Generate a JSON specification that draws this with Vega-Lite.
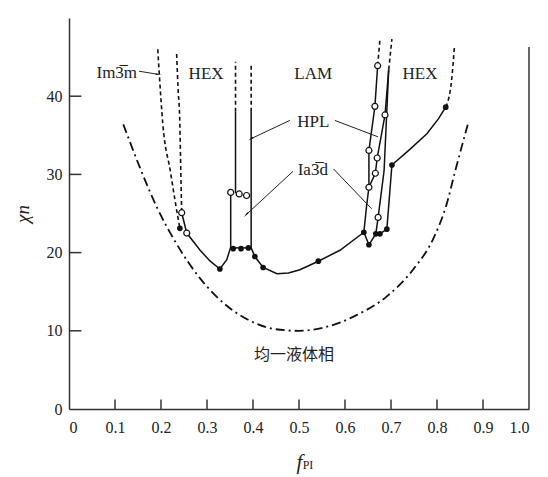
{
  "$schema": "https://vega.github.io/schema/vega-lite/v6.json",
  "width": 460,
  "height": 391,
  "autosize": {"type": "none"},
  "padding": {"left": 69, "top": 18, "right": 19, "bottom": 68},
  "background": "white",
  "config": {
    "font": "Liberation Serif",
    "view": {"stroke": null},
    "axis": {
      "grid": false,
      "ticks": false,
      "tickSize": 0,
      "domainColor": "#333",
      "domainWidth": 1.5,
      "labelFont": "Liberation Serif",
      "labelFontSize": 16,
      "labelColor": "#222",
      "titleFont": "Liberation Serif",
      "titleColor": "#222",
      "titleFontWeight": "normal",
      "titleFontStyle": "italic"
    }
  },
  "datasets": {
    "solid": [
      {"s": "lowL", "o": 1, "x": 0.245, "y": 25.1},
      {"s": "lowL", "o": 2, "x": 0.256, "y": 22.5},
      {"s": "lowL", "o": 3, "x": 0.285, "y": 20.3},
      {"s": "lowL", "o": 4, "x": 0.307, "y": 18.9},
      {"s": "lowL", "o": 5, "x": 0.328, "y": 17.9},
      {"s": "lowL", "o": 6, "x": 0.343, "y": 19.1},
      {"s": "lowL", "o": 7, "x": 0.3515, "y": 20.7},
      {"s": "lowL", "o": 8, "x": 0.3515, "y": 27.7},
      {"s": "boxB", "o": 1, "x": 0.3515, "y": 20.6},
      {"s": "boxB", "o": 2, "x": 0.396, "y": 20.6},
      {"s": "hplL", "o": 1, "x": 0.362, "y": 27.6},
      {"s": "hplL", "o": 2, "x": 0.362, "y": 38.0},
      {"s": "lowR", "o": 1, "x": 0.396, "y": 38.0},
      {"s": "lowR", "o": 2, "x": 0.396, "y": 20.6},
      {"s": "lowR", "o": 3, "x": 0.404, "y": 19.5},
      {"s": "lowR", "o": 4, "x": 0.422, "y": 18.1},
      {"s": "lowR", "o": 5, "x": 0.452, "y": 17.3},
      {"s": "lowR", "o": 6, "x": 0.477, "y": 17.4},
      {"s": "lowR", "o": 7, "x": 0.502, "y": 17.8},
      {"s": "lowR", "o": 8, "x": 0.542, "y": 18.9},
      {"s": "lowR", "o": 9, "x": 0.589, "y": 20.3},
      {"s": "lowR", "o": 10, "x": 0.641, "y": 22.6},
      {"s": "r1", "o": 1, "x": 0.641, "y": 22.6},
      {"s": "r1", "o": 2, "x": 0.647, "y": 26.0},
      {"s": "r1", "o": 3, "x": 0.652, "y": 28.35},
      {"s": "r1", "o": 4, "x": 0.652, "y": 33.06},
      {"s": "r1", "o": 5, "x": 0.665, "y": 38.7},
      {"s": "r1", "o": 6, "x": 0.671, "y": 43.9},
      {"s": "rz", "o": 1, "x": 0.652, "y": 28.35},
      {"s": "rz", "o": 2, "x": 0.666, "y": 30.15},
      {"s": "rz", "o": 3, "x": 0.670, "y": 32.1},
      {"s": "rz", "o": 4, "x": 0.687, "y": 37.6},
      {"s": "rz", "o": 5, "x": 0.695, "y": 43.4},
      {"s": "rm", "o": 1, "x": 0.667, "y": 22.4},
      {"s": "rm", "o": 2, "x": 0.672, "y": 24.5},
      {"s": "rm", "o": 3, "x": 0.685, "y": 30.5},
      {"s": "rm", "o": 4, "x": 0.695, "y": 43.4},
      {"s": "rr", "o": 1, "x": 0.691, "y": 23.0},
      {"s": "rr", "o": 2, "x": 0.702, "y": 31.2},
      {"s": "zig", "o": 1, "x": 0.641, "y": 22.6},
      {"s": "zig", "o": 2, "x": 0.652, "y": 21.0},
      {"s": "zig", "o": 3, "x": 0.667, "y": 22.4},
      {"s": "zig", "o": 4, "x": 0.676, "y": 22.4},
      {"s": "zig", "o": 5, "x": 0.691, "y": 23.0},
      {"s": "hex", "o": 1, "x": 0.702, "y": 31.2},
      {"s": "hex", "o": 2, "x": 0.741, "y": 33.2},
      {"s": "hex", "o": 3, "x": 0.778, "y": 35.2},
      {"s": "hex", "o": 4, "x": 0.803, "y": 37.1},
      {"s": "hex", "o": 5, "x": 0.819, "y": 38.6}
    ],
    "dashed": [
      {"s": "A", "o": 1, "x": 0.193, "y": 46.0},
      {"s": "A", "o": 2, "x": 0.196, "y": 43.1},
      {"s": "A", "o": 3, "x": 0.204, "y": 36.4},
      {"s": "A", "o": 4, "x": 0.220, "y": 30.5},
      {"s": "A", "o": 5, "x": 0.233, "y": 25.8},
      {"s": "A", "o": 6, "x": 0.241, "y": 23.1},
      {"s": "B", "o": 1, "x": 0.234, "y": 45.4},
      {"s": "B", "o": 2, "x": 0.237, "y": 41.1},
      {"s": "B", "o": 3, "x": 0.241, "y": 36.4},
      {"s": "B", "o": 4, "x": 0.243, "y": 30.5},
      {"s": "B", "o": 5, "x": 0.245, "y": 25.1},
      {"s": "HL", "o": 1, "x": 0.362, "y": 38.0},
      {"s": "HL", "o": 2, "x": 0.362, "y": 44.4},
      {"s": "HR", "o": 1, "x": 0.396, "y": 38.0},
      {"s": "HR", "o": 2, "x": 0.396, "y": 44.2},
      {"s": "R1", "o": 1, "x": 0.671, "y": 43.9},
      {"s": "R1", "o": 2, "x": 0.676, "y": 47.3},
      {"s": "RZ", "o": 1, "x": 0.695, "y": 43.4},
      {"s": "RZ", "o": 2, "x": 0.702, "y": 47.3},
      {"s": "HX", "o": 1, "x": 0.819, "y": 38.6},
      {"s": "HX", "o": 2, "x": 0.832, "y": 42.2},
      {"s": "HX", "o": 3, "x": 0.838, "y": 46.4}
    ],
    "meanfield": [
      {"x": 0.118, "y": 36.4},
      {"x": 0.154, "y": 30.9},
      {"x": 0.191, "y": 25.8},
      {"x": 0.234, "y": 21.1},
      {"x": 0.285, "y": 16.7},
      {"x": 0.343, "y": 13.2},
      {"x": 0.408, "y": 10.9},
      {"x": 0.45, "y": 10.2},
      {"x": 0.50, "y": 10.0},
      {"x": 0.553, "y": 10.4},
      {"x": 0.625, "y": 12.0},
      {"x": 0.691, "y": 14.4},
      {"x": 0.749, "y": 17.9},
      {"x": 0.792, "y": 21.8},
      {"x": 0.821, "y": 26.2},
      {"x": 0.839, "y": 30.3},
      {"x": 0.867, "y": 36.4}
    ],
    "arrows": [
      {"s": "im", "o": 1, "x": 0.152, "y": 43.2},
      {"s": "im", "o": 2, "x": 0.193, "y": 42.8},
      {"s": "hpl1", "o": 1, "x": 0.480, "y": 36.9},
      {"s": "hpl1", "o": 2, "x": 0.397, "y": 34.6},
      {"s": "hpl2", "o": 1, "x": 0.578, "y": 36.9},
      {"s": "hpl2", "o": 2, "x": 0.672, "y": 34.8},
      {"s": "ia1", "o": 1, "x": 0.487, "y": 30.4},
      {"s": "ia1", "o": 2, "x": 0.386, "y": 24.9},
      {"s": "ia2", "o": 1, "x": 0.575, "y": 30.7},
      {"s": "ia2", "o": 2, "x": 0.658, "y": 25.6}
    ],
    "filled": [
      {"x": 0.241, "y": 23.1}, {"x": 0.328, "y": 17.9},
      {"x": 0.357, "y": 20.5}, {"x": 0.374, "y": 20.5}, {"x": 0.390, "y": 20.6},
      {"x": 0.404, "y": 19.5}, {"x": 0.422, "y": 18.1}, {"x": 0.542, "y": 18.9},
      {"x": 0.641, "y": 22.6}, {"x": 0.652, "y": 21.0}, {"x": 0.667, "y": 22.4},
      {"x": 0.676, "y": 22.4}, {"x": 0.691, "y": 23.0}, {"x": 0.702, "y": 31.2},
      {"x": 0.819, "y": 38.6}
    ],
    "open": [
      {"x": 0.245, "y": 25.1}, {"x": 0.256, "y": 22.5},
      {"x": 0.3515, "y": 27.7}, {"x": 0.370, "y": 27.5}, {"x": 0.386, "y": 27.3},
      {"x": 0.652, "y": 28.35}, {"x": 0.666, "y": 30.15}, {"x": 0.670, "y": 32.1},
      {"x": 0.652, "y": 33.06}, {"x": 0.665, "y": 38.7}, {"x": 0.671, "y": 43.9},
      {"x": 0.687, "y": 37.6}, {"x": 0.672, "y": 24.5}
    ],
    "labels": [
      {"t": "HEX", "x": 0.298, "y": 42.8},
      {"t": "LAM", "x": 0.531, "y": 42.8},
      {"t": "HEX", "x": 0.763, "y": 42.8},
      {"t": "HPL", "x": 0.531, "y": 36.7},
      {"t": "Ia3̅d", "x": 0.530, "y": 30.6}
    ],
    "xticks": [
      {"v": 0.1}, {"v": 0.2}, {"v": 0.3}, {"v": 0.4}, {"v": 0.5},
      {"v": 0.6}, {"v": 0.7}, {"v": 0.8}, {"v": 0.9}
    ],
    "yticks": [
      {"v": 10}, {"v": 20}, {"v": 30}, {"v": 40}
    ]
  },
  "layer": [
    {
      "data": {"values": [{"x": 1, "y": 0, "y2": 46.3}]},
      "mark": {"type": "rule", "color": "#333", "strokeWidth": 1.5},
      "encoding": {
        "x": {"field": "x", "type": "quantitative"},
        "y": {"field": "y", "type": "quantitative"},
        "y2": {"field": "y2"}
      }
    },
    {
      "data": {"name": "xticks"},
      "mark": {"type": "rule", "color": "#333", "strokeWidth": 1.5},
      "encoding": {
        "x": {"field": "v", "type": "quantitative"},
        "y": {"datum": 0, "type": "quantitative"},
        "y2": {"datum": 1.2}
      }
    },
    {
      "data": {"name": "yticks"},
      "mark": {"type": "rule", "color": "#333", "strokeWidth": 1.5},
      "encoding": {
        "y": {"field": "v", "type": "quantitative"},
        "x": {"datum": 0, "type": "quantitative"},
        "x2": {"datum": 0.027}
      }
    },
    {
      "data": {"name": "meanfield"},
      "mark": {"type": "line", "color": "#111", "strokeWidth": 1.8, "strokeDash": [9, 4, 2, 4], "interpolate": "monotone"},
      "encoding": {
        "x": {"field": "x", "type": "quantitative", "scale": {"domain": [0, 1]},
          "axis": {"values": [0, 0.1, 0.2, 0.3, 0.4, 0.5, 0.6, 0.7, 0.8, 0.9, 1.0],
            "labelExpr": "datum.value == 0 ? '0' : format(datum.value, '.1f')",
            "labelPadding": 10, "title": "f", "titleFontSize": 21, "titlePadding": 16}},
        "y": {"field": "y", "type": "quantitative", "scale": {"domain": [0, 46]},
          "axis": {"values": [0, 10, 20, 30, 40], "labelPadding": 7,
            "title": "χn", "titleFontSize": 19, "titlePadding": 14}}
      }
    },
    {
      "data": {"name": "dashed"},
      "mark": {"type": "line", "color": "#111", "strokeWidth": 1.6, "strokeDash": [4, 3], "interpolate": "monotone"},
      "encoding": {
        "x": {"field": "x", "type": "quantitative"},
        "y": {"field": "y", "type": "quantitative"},
        "detail": {"field": "s"},
        "order": {"field": "o"}
      }
    },
    {
      "data": {"name": "solid"},
      "mark": {"type": "line", "color": "#111", "strokeWidth": 1.5},
      "encoding": {
        "x": {"field": "x", "type": "quantitative"},
        "y": {"field": "y", "type": "quantitative"},
        "detail": {"field": "s"},
        "order": {"field": "o"}
      }
    },
    {
      "data": {"name": "arrows"},
      "mark": {"type": "line", "color": "#222", "strokeWidth": 1},
      "encoding": {
        "x": {"field": "x", "type": "quantitative"},
        "y": {"field": "y", "type": "quantitative"},
        "detail": {"field": "s"},
        "order": {"field": "o"}
      }
    },
    {
      "data": {"values": [{"x": 0.193, "y": 42.8}]},
      "mark": {"type": "point", "shape": "wedge", "filled": true, "color": "#111", "size": 45, "angle": 100, "opacity": 1},
      "encoding": {"x": {"field": "x", "type": "quantitative"}, "y": {"field": "y", "type": "quantitative"}}
    },
    {
      "data": {"values": [{"x": 0.397, "y": 34.6}]},
      "mark": {"type": "point", "shape": "wedge", "filled": true, "color": "#111", "size": 45, "angle": 242, "opacity": 1},
      "encoding": {"x": {"field": "x", "type": "quantitative"}, "y": {"field": "y", "type": "quantitative"}}
    },
    {
      "data": {"values": [{"x": 0.386, "y": 24.9}]},
      "mark": {"type": "point", "shape": "wedge", "filled": true, "color": "#111", "size": 45, "angle": 223, "opacity": 1},
      "encoding": {"x": {"field": "x", "type": "quantitative"}, "y": {"field": "y", "type": "quantitative"}}
    },
    {
      "data": {"name": "filled"},
      "mark": {"type": "point", "shape": "circle", "filled": true, "color": "#111", "size": 32, "opacity": 1},
      "encoding": {"x": {"field": "x", "type": "quantitative"}, "y": {"field": "y", "type": "quantitative"}}
    },
    {
      "data": {"name": "open"},
      "mark": {"type": "point", "shape": "circle", "filled": true, "fill": "white", "stroke": "#111", "strokeWidth": 1.2, "size": 36, "opacity": 1},
      "encoding": {"x": {"field": "x", "type": "quantitative"}, "y": {"field": "y", "type": "quantitative"}}
    },
    {
      "data": {"name": "labels"},
      "mark": {"type": "text", "font": "Liberation Serif", "fontSize": 17, "color": "#222", "align": "center", "baseline": "middle"},
      "encoding": {
        "x": {"field": "x", "type": "quantitative"},
        "y": {"field": "y", "type": "quantitative"},
        "text": {"field": "t"}
      }
    },
    {
      "data": {"values": [{"t": "Im3̅m", "x": 0.148, "y": 43.0}]},
      "mark": {"type": "text", "font": "Liberation Serif", "fontSize": 17, "color": "#222", "align": "right", "baseline": "middle"},
      "encoding": {
        "x": {"field": "x", "type": "quantitative"},
        "y": {"field": "y", "type": "quantitative"},
        "text": {"field": "t"}
      }
    },
    {
      "data": {"values": [{"t": "均一液体相", "x": 0.489, "y": 6.9}]},
      "mark": {"type": "text", "font": "Noto Sans CJK SC", "fontSize": 16, "color": "#222", "align": "center", "baseline": "middle"},
      "encoding": {
        "x": {"field": "x", "type": "quantitative"},
        "y": {"field": "y", "type": "quantitative"},
        "text": {"field": "t"}
      }
    },
    {
      "data": {"values": [{"t": "PI", "x": 0.508, "y": -7.1}]},
      "mark": {"type": "text", "font": "Liberation Serif", "fontSize": 12, "color": "#222", "align": "left", "baseline": "middle"},
      "encoding": {
        "x": {"field": "x", "type": "quantitative"},
        "y": {"field": "y", "type": "quantitative"},
        "text": {"field": "t"}
      }
    }
  ]
}
